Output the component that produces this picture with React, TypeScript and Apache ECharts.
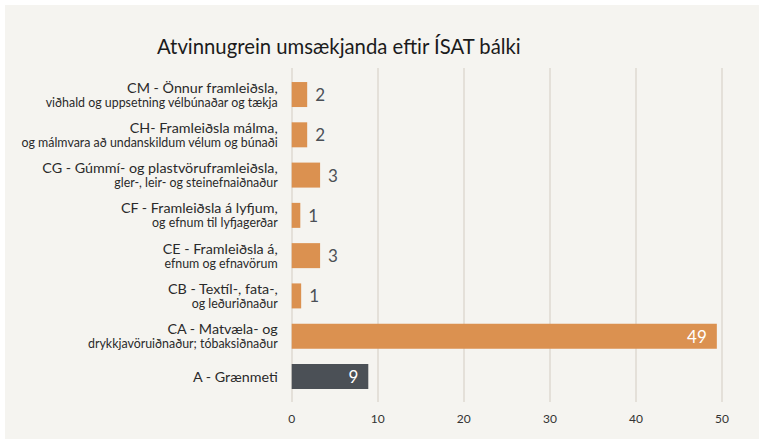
import React, { useEffect, useRef } from "react";
import * as echarts from "echarts";

const TITLE = "Atvinnugrein umsækjanda eftir ÍSAT bálki";
const MAIN_LABELS = [
  "A - Grænmeti",
  "CA - Matvæla- og",
  "CB - Textíl-, fata-,",
  "CE - Framleiðsla á,",
  "CF - Framleiðsla á lyfjum,",
  "CG - Gúmmí- og plastvöruframleiðsla,",
  "CH- Framleiðsla málma,",
  "CM - Önnur framleiðsla,",
];
const SUB_LABELS = [
  "",
  "drykkjavöruiðnaður; tóbaksiðnaður",
  "og leðuriðnaður",
  "efnum og efnavörum",
  "og efnum til lyfjagerðar",
  "gler-, leir- og steinefnaiðnaður",
  "og málmvara að undanskildum vélum og búnaði",
  "viðhald og uppsetning vélbúnaðar og tækja",
];
const VALUES = [8.9, 49.4, 1.1, 3.3, 1.0, 3.3, 1.8, 1.8];
const HIGHLIGHT = [true, false, false, false, false, false, false, false];
const X_TICKS = [0, 10, 20, 30, 40, 50];

const ORANGE = "#db9150";
const DARK = "#4b5056";
const FONT = "Lato, 'Noto Sans', sans-serif";

export default function App() {
  const ref = useRef<HTMLDivElement>(null);
  useEffect(() => {
    if (!ref.current) return;
    const chart = echarts.init(ref.current, undefined, { renderer: "svg" });
    const cats = MAIN_LABELS.map((m, i) => (SUB_LABELS[i] ? `{a|${m}}\n{b|${SUB_LABELS[i]}}` : `{a|${m}}`));
    const max = X_TICKS[X_TICKS.length - 1];
    const interval = X_TICKS[1] - X_TICKS[0];
    chart.setOption({
      animation: false,
      backgroundColor: "#f5f4f0",
      textStyle: { fontFamily: FONT },
      title: {
        text: TITLE,
        left: 147,
        top: 26,
        textStyle: { fontFamily: FONT, fontSize: 20.3, fontWeight: "normal", color: "#1b1b1b" },
      },
      grid: [
        { left: 286.7, right: 37, top: 63, bottom: 37 },
        { left: 286.7, right: 37, top: 69.4, bottom: 42.4 },
      ],
      xAxis: [
        {
          type: "value",
          gridIndex: 0,
          min: 0,
          max,
          interval,
          axisLine: { show: false },
          axisTick: { show: false },
          splitLine: { show: true, lineStyle: { color: "#dedad2", width: 1.5 } },
          axisLabel: { color: "#333", fontSize: 12, fontFamily: FONT, margin: 10 },
        },
        {
          type: "value",
          gridIndex: 1,
          min: 0,
          max,
          interval,
          show: false,
        },
      ],
      yAxis: [
        {
          type: "category",
          gridIndex: 0,
          data: cats,
          show: false,
        },
        {
          type: "category",
          gridIndex: 1,
          data: cats,
          axisLine: { show: false },
          axisTick: { show: false },
          axisLabel: {
            margin: 14,
            align: "right",
            rich: {
              a: { fontSize: 14.3, color: "#2a2a2a", fontFamily: FONT, lineHeight: 15 },
              b: { fontSize: 12.4, color: "#2a2a2a", fontFamily: FONT, lineHeight: 15 },
            },
          },
        },
      ],
      series: [
        {
          type: "bar",
          xAxisIndex: 1,
          yAxisIndex: 1,
          barWidth: 25,
          data: VALUES.map((v, i) => ({
            value: v,
            itemStyle: { color: HIGHLIGHT[i] ? DARK : ORANGE },
            label: v > 5
              ? { show: true, position: "insideRight", color: "#ffffff", distance: 10 }
              : { show: true, position: "right", color: DARK, distance: 8 },
          })),
          label: {
            show: true,
            fontSize: 17,
            fontFamily: FONT,
            formatter: (p: any) => String(Math.round(p.value)),
          },
        },
      ],
    });
    return () => chart.dispose();
  }, []);
  return (
    <div style={{ position: "fixed", left: 0, top: 0, width: 759, height: 441, background: "#ffffff" }}>
      <div ref={ref} style={{ position: "absolute", left: 5, top: 5, width: 754, height: 434 }} />
    </div>
  );
}
